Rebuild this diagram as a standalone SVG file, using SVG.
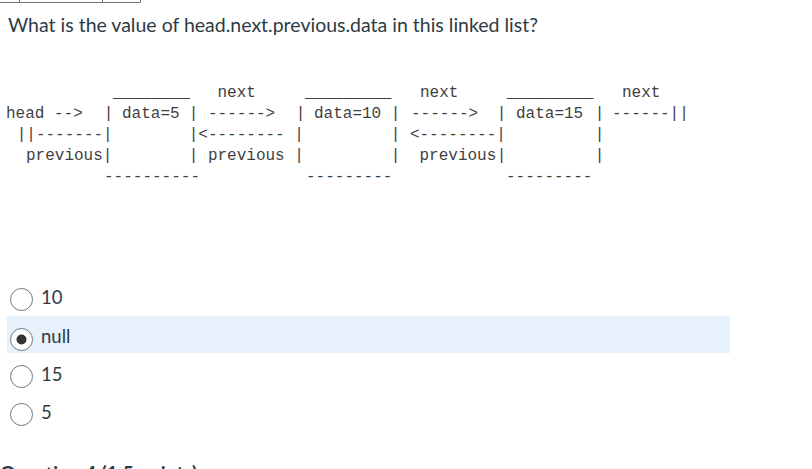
<svg xmlns="http://www.w3.org/2000/svg" width="812" height="469" viewBox="0 0 812 469">
<style>
.q{font-family:Lato,"Noto Sans","Liberation Sans",sans-serif;font-size:19.5px;fill:#2d3b45}
.m{font-family:"Liberation Mono","DejaVu Sans Mono",monospace;font-size:16px;fill:#3f3f3f;white-space:pre}
.b{text-anchor:middle}
.r{fill:#fff;stroke:#6b7780;stroke-width:1}
.o{font-family:Lato,"Noto Sans","Liberation Sans",sans-serif;font-size:18.5px;fill:#2d3b45}
</style>
<rect width="812" height="469" fill="#fff"/>
<g id="top-border" stroke="#6b7780" stroke-width="1" fill="none">
<path d="M0 2.5H140.5M19.5 0V2.5M102.5 0V2.5M140.5 0V2.5"/>
</g>
<g id="question"><text class="q" x="8" y="32">What is the value of head.next.previous.data in this linked list?</text></g>
<g id="head">
<text class="m" x="6" y="117.5">head --&gt;</text>
<text class="m" x="16.7" y="138.5">||-------|</text>
<text class="m" x="26" y="159.5">previous|</text>
</g>
<g id="node5">
<text class="m" x="113" y="96.5">________</text>
<text class="m b" x="108.5" y="117.5">|</text>
<text class="m" x="122" y="117.5">data=5</text>
<text class="m b" x="193.5" y="117.5">|</text>
<text class="m" x="104" y="180.5">----------</text>
</g>
<g id="node10">
<text class="m" x="305" y="96.5">_________</text>
<text class="m b" x="300.5" y="117.5">|</text>
<text class="m" x="314" y="117.5">data=10</text>
<text class="m b" x="395.5" y="117.5">|</text>
<text class="m" x="306" y="180.5">---------</text>
</g>
<g id="node15">
<text class="m" x="507" y="96.5">_________</text>
<text class="m b" x="501.5" y="117.5">|</text>
<text class="m" x="516" y="117.5">data=15</text>
<text class="m b" x="599.5" y="117.5">|</text>
<text class="m b" x="599.5" y="138.5">|</text>
<text class="m b" x="501.5" y="159.5">|</text>
<text class="m b" x="599.5" y="159.5">|</text>
<text class="m" x="506" y="180.5">---------</text>
</g>
<g id="connectors">
<text class="m" x="217.5" y="96.5">next</text>
<text class="m" x="420" y="96.5">next</text>
<text class="m" x="622" y="96.5">next</text>
<text class="m" x="208" y="117.5">------&gt;</text>
<text class="m" x="411" y="117.5">------&gt;</text>
<text class="m" x="612" y="117.5">------||</text>
<text class="m" x="188.7" y="138.5">|&lt;-------- |</text>
<text class="m" x="390.7" y="138.5">| &lt;--------|</text>
<text class="m" x="188.7" y="159.5">| previous |</text>
<text class="m" x="395.5" y="159.5" text-anchor="middle">|</text>
<text class="m" x="419.5" y="159.5">previous</text>
</g>
<g id="opt-10"><circle class="r" cx="21.5" cy="299.5" r="11"/><text class="o" x="41" y="304">10</text></g>
<g id="opt-null"><rect x="7" y="316" width="723" height="37" fill="#e6f1fb"/><circle class="r" cx="21.5" cy="339.5" r="11" stroke="#555"/><circle cx="21.5" cy="339.5" r="5" fill="#333"/><text class="o" x="41" y="343">null</text></g>
<g id="opt-15"><circle class="r" cx="21.5" cy="376.5" r="11"/><text class="o" x="41" y="381">15</text></g>
<g id="opt-5"><circle class="r" cx="21.5" cy="414.5" r="11"/><text class="o" x="41" y="419">5</text></g>
<g id="next-question"><text class="q" x="0" y="480" font-size="18" font-weight="bold">Question 4 (1.5 points)</text></g>
</svg>
